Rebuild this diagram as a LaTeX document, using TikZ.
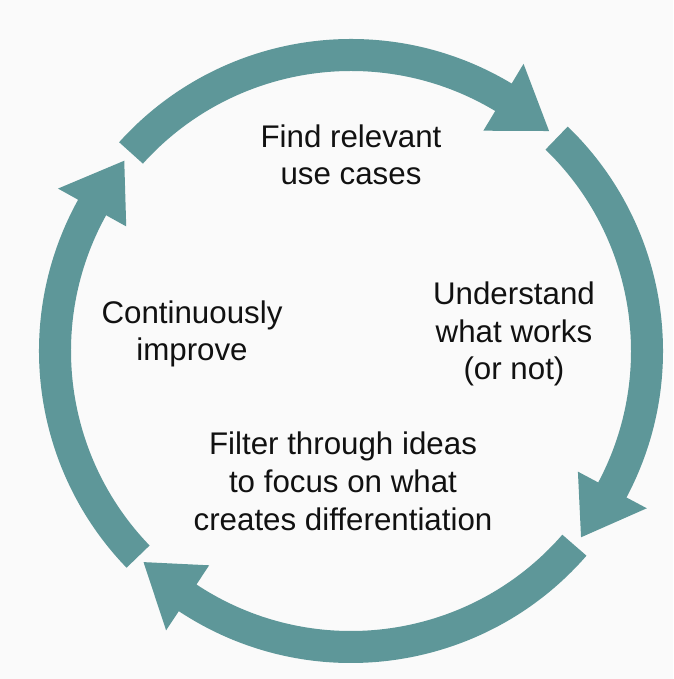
\documentclass[tikz,border=0pt]{standalone}
\usepackage{fontspec}
\setmainfont{Liberation Sans}

\definecolor{ringteal}{RGB}{94,151,153}
\definecolor{paper}{RGB}{250,250,250}
\definecolor{ink}{RGB}{17,17,17}

\tikzset{
  steptext/.style={font=\fontsize{31.3}{37.8}\selectfont, text=ink,
    align=center, anchor=base, inner sep=0pt}
}

\begin{document}
\begin{tikzpicture}[x=1pt, y=1pt]
  \path[use as bounding box, fill=paper] (-351,-328) rectangle (322,351);

  % Ring arrows (start angle / head base / tip), clockwise
  \foreach \s/\b/\t in {138/59/48, 46/-28/-39, -41/-123.5/-134.5, 224/151/140}
    \fill[ringteal] (\s:280) arc[start angle=\s, end angle=\b, radius=280]
      -- (\b:257) -- (\t:296) -- (\b:335) -- (\b:312)
      arc[start angle=\b, end angle=\s, radius=312] -- cycle;

  % Step labels (anchored on the baseline of the last line)
  \node[steptext] (find) at (0,166) {Find relevant\\use cases};
  \node[steptext] (understand) at (163,-29) {Understand\\what works\\(or not)};
  \node[steptext] (filter) at (-8,-179) {Filter through ideas\\to focus on what\\creates differentiation};
  \node[steptext] (improve) at (-159,-10) {Continuously\\improve};
\end{tikzpicture}
\end{document}
